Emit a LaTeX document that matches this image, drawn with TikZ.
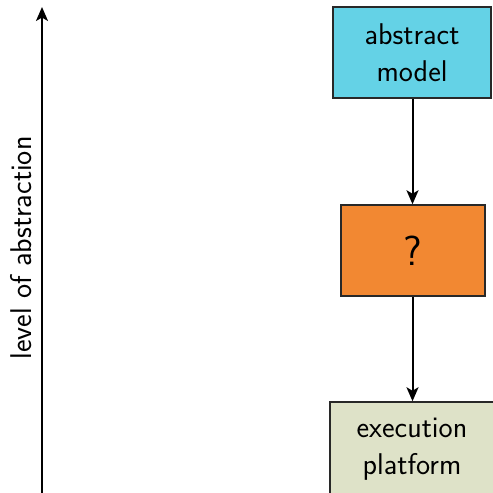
\documentclass[tikz,border=0pt]{standalone}
\usetikzlibrary{arrows.meta}
\definecolor{boxcyan}{RGB}{100,210,230}
\definecolor{boxorange}{RGB}{242,136,50}
\definecolor{boxgreen}{RGB}{222,226,200}
\definecolor{edgegray}{RGB}{40,40,40}
\begin{document}
\begin{tikzpicture}[x=1pt,y=-1pt,
  every node/.style={font=\sffamily\fontsize{30}{37}\selectfont},
  blockbox/.style={draw=edgegray,line width=1.5pt,inner sep=0pt},
  flow/.style={line width=2pt,-{Stealth[length=14pt,width=12pt,inset=3.5pt]}}]
\useasboundingbox (0,0) rectangle (493,493);
\clip (0,0) rectangle (493,493);
\fill[white] (0,0) rectangle (493,493);
\node[blockbox,fill=boxcyan,minimum width=158pt,minimum height=91pt,align=center] (abs) at (412,52.5) {abstract\\model};
\node[blockbox,fill=boxorange,minimum width=144pt,minimum height=91pt,font=\sffamily\fontsize{42}{50}\selectfont] (q) at (413,250.5) {?};
\node[blockbox,fill=boxgreen,minimum width=170pt,minimum height=94pt,align=center] (exe) at (415,449) {};
\node (exetext) at (412,449) [align=center] {execution\\platform};
\draw[flow] (abs.south -| 412.5,0) -- (q.north -| 412.5,0);
\draw[flow] (q.south -| 412.5,0) -- (exe.north -| 412.5,0);
\coordinate (axbot) at (42,495);
\coordinate (axtop) at (42,7);
\draw[flow] (axbot) -- (axtop);
\node[rotate=90] (lbl) at (21,248) {level of abstraction};
\end{tikzpicture}
\end{document}
